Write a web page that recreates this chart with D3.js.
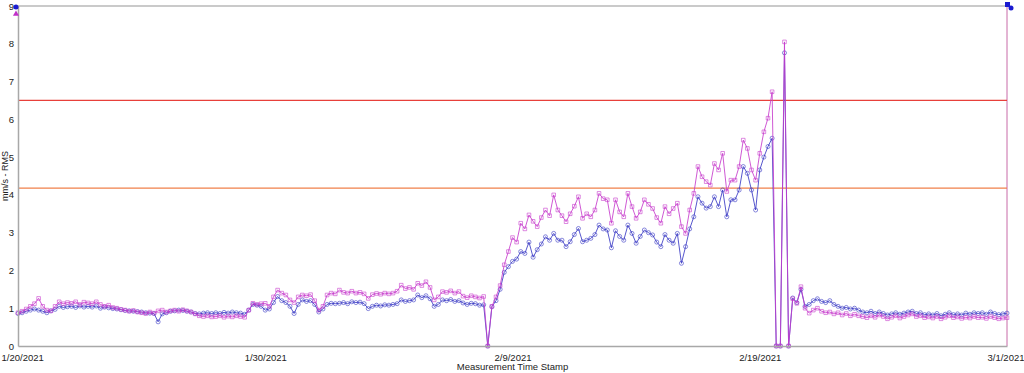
<!DOCTYPE html>
<html>
<head>
<meta charset="utf-8">
<script src="https://cdn.jsdelivr.net/npm/d3@7"></script>
<style>
  body { margin: 0; background: #fff; }
  svg { display: block; font-family: "Liberation Sans", Arial, sans-serif; }
  .tick text { font-size: 9.5px; fill: #222; }
</style>
</head>
<body>
<svg id="chart" width="1024" height="373"></svg>
<script>
'use strict';

// readings every 4 hours (6 per day) from 1/20/2021 to 3/1/2021
const startDate = new Date(2021, 0, 20);
const stepHours = 4;

const seriesMagenta = [
  0.88,0.92,0.98,1.05,1.12,1.26,  1.05,0.95,0.93,1.05,1.17,1.12,
  1.15,1.13,1.17,1.10,1.16,1.14,  1.12,1.17,1.10,1.05,1.08,1.02,
  1.00,0.97,0.95,0.92,0.94,0.90,  0.88,0.86,0.90,0.87,0.93,0.95,
  0.90,0.93,0.95,0.92,0.96,0.93,  0.90,0.85,0.80,0.78,0.80,0.77,
  0.78,0.80,0.76,0.79,0.77,0.80,  0.78,0.76,0.95,1.13,1.10,1.12,
  1.13,1.05,1.30,1.48,1.40,1.35,  1.22,1.15,1.30,1.35,1.33,1.36,
  1.20,0.95,1.05,1.35,1.40,1.38,  1.48,1.42,1.40,1.45,1.40,1.42,
  1.38,1.26,1.36,1.39,1.37,1.40,  1.38,1.40,1.45,1.61,1.52,1.55,
  1.50,1.66,1.60,1.70,1.55,1.22,  1.30,1.44,1.42,1.46,1.40,1.44,
  1.32,1.28,1.33,1.30,1.27,1.31,  0.00,1.05,1.30,1.60,2.15,2.50,
  2.87,2.75,3.25,3.10,3.47,3.30,  3.16,3.40,3.60,3.45,4.00,3.60,
  3.45,3.29,3.50,3.70,3.95,3.38,  3.50,3.42,3.60,4.04,3.90,3.87,
  3.25,3.87,3.55,3.42,4.04,3.69,  3.38,3.55,3.87,3.75,3.64,3.40,
  3.25,3.69,3.50,3.64,3.78,3.16,  2.98,3.60,4.04,4.75,4.48,4.35,
  4.26,4.83,4.66,5.10,4.09,4.39,  4.39,4.75,5.45,5.23,4.66,4.39,
  5.10,5.67,6.03,6.73,0.00,0.00,  8.05,0.00,1.25,1.13,1.57,1.00,
  0.87,0.95,1.00,0.92,0.88,0.90,  0.85,0.88,0.82,0.86,0.80,0.84,
  0.80,0.78,0.75,0.80,0.76,0.82,  0.78,0.72,0.76,0.80,0.74,0.78,
  0.82,0.85,0.78,0.80,0.75,0.77,  0.74,0.78,0.72,0.76,0.80,0.75,
  0.77,0.73,0.76,0.74,0.78,0.75,  0.76,0.73,0.78,0.75,0.72,0.74,
  0.75
];

const seriesBlue = [
  0.86,0.88,0.92,0.95,0.98,0.95,  0.92,0.88,0.93,0.97,1.05,1.02,
  1.04,1.05,1.02,1.06,1.03,1.05,  1.03,1.06,1.00,1.03,1.01,0.99,
  0.98,0.96,0.94,0.93,0.92,0.91,  0.90,0.88,0.87,0.86,0.64,0.85,
  0.88,0.92,0.93,0.95,0.94,0.92,  0.90,0.86,0.85,0.87,0.88,0.86,
  0.88,0.86,0.89,0.87,0.90,0.88,  0.87,0.84,0.95,1.10,1.08,1.05,
  0.95,0.98,1.15,1.31,1.20,1.15,  1.05,0.86,1.10,1.22,1.18,1.20,
  1.10,0.90,0.98,1.10,1.13,1.12,  1.13,1.15,1.12,1.17,1.15,1.16,
  1.12,0.99,1.05,1.08,1.06,1.09,  1.08,1.10,1.12,1.22,1.18,1.20,
  1.22,1.35,1.28,1.33,1.25,1.05,  1.10,1.22,1.20,1.23,1.18,1.20,
  1.14,1.10,1.13,1.12,1.08,1.09,  0.00,1.04,1.20,1.50,1.95,2.10,
  2.24,2.30,2.50,2.45,2.75,2.35,  2.55,2.70,2.89,2.80,2.98,2.80,
  2.80,2.63,2.76,2.95,3.11,2.76,  2.80,2.85,2.95,3.20,3.10,3.07,
  2.60,3.05,2.90,2.80,3.20,2.98,  2.72,2.90,3.07,3.00,2.94,2.75,
  2.63,2.95,2.80,2.72,2.98,2.19,  2.63,3.10,3.42,3.95,3.78,3.65,
  3.69,3.95,3.69,4.13,3.42,3.87,  3.87,4.13,4.75,4.57,4.13,3.60,
  4.66,5.00,5.28,5.50,0.00,0.00,  7.76,0.00,1.27,1.15,1.50,1.05,
  1.10,1.20,1.25,1.18,1.15,1.20,  1.10,1.05,1.00,1.02,0.98,1.00,
  0.95,0.90,0.88,0.92,0.86,0.90,  0.86,0.82,0.85,0.88,0.84,0.87,
  0.90,0.92,0.86,0.88,0.83,0.85,  0.82,0.86,0.80,0.84,0.88,0.83,
  0.85,0.82,0.87,0.84,0.88,0.86,  0.88,0.84,0.90,0.86,0.83,0.85,
  0.87
];

const yTicks = [0, 1, 2, 3, 4, 5, 6, 7, 8, 9];
const xTickDates = [new Date(2021, 0, 20), new Date(2021, 0, 30), new Date(2021, 1, 9),
                    new Date(2021, 1, 19), new Date(2021, 2, 1)];
const alarmLevels = [
  { value: 6.5, color: '#e8403a' },
  { value: 4.18, color: '#f0804a' }
];
const yLabel = 'mm/s - RMS';
const xLabel = 'Measurement Time Stamp';

const svg = d3.select('#chart');
const margin = { top: 6, right: 17, bottom: 27, left: 18 };
const W = 1024, H = 373;

const x = d3.scaleTime()
  .domain([xTickDates[0], xTickDates[xTickDates.length - 1]])
  .range([margin.left, W - margin.right]);
const y = d3.scaleLinear().domain([0, 9]).range([H - margin.bottom, margin.top]);

const toPoints = vals => vals.map((v, i) => ({
  t: new Date(startDate.getTime() + i * stepHours * 3600e3), v
}));

// frame: top border and right edge
svg.append('line')
  .attr('x1', x.range()[0]).attr('x2', x.range()[1])
  .attr('y1', y(9)).attr('y2', y(9))
  .attr('stroke', '#b8b8b8').attr('stroke-width', 1.5);
svg.append('line')
  .attr('x1', x.range()[1]).attr('x2', x.range()[1])
  .attr('y1', y(9)).attr('y2', y(0))
  .attr('stroke', '#c86aa8').attr('stroke-width', 1);

// alarm lines
svg.selectAll('line.alarm').data(alarmLevels).enter().append('line')
  .attr('class', 'alarm')
  .attr('x1', x.range()[0]).attr('x2', x.range()[1])
  .attr('y1', d => y(d.value)).attr('y2', d => y(d.value))
  .attr('stroke', d => d.color).attr('stroke-width', 1.2);

const line = d3.line().x(d => x(d.t)).y(d => y(d.v));

function drawSeries(vals, color, shape) {
  const pts = toPoints(vals);
  const g = svg.append('g');
  g.append('path').datum(pts)
    .attr('d', line)
    .attr('fill', 'none')
    .attr('stroke', color)
    .attr('stroke-width', 1)
    .attr('stroke-opacity', 0.85);
  const sym = d3.symbol().type(shape).size(13);
  g.selectAll('path.pt').data(pts).enter().append('path')
    .attr('class', 'pt')
    .attr('d', sym)
    .attr('transform', d => `translate(${x(d.t)},${y(d.v)})`)
    .attr('fill', 'none')
    .attr('stroke', color)
    .attr('stroke-width', 0.8)
    .attr('stroke-opacity', 0.75);
}

drawSeries(seriesBlue, '#3a3ac4', d3.symbolCircle);
drawSeries(seriesMagenta, '#c73ccc', d3.symbolSquare);

// axes
const yAxis = d3.axisLeft(y).tickValues(yTicks).tickSize(0).tickPadding(4).tickFormat(d3.format('d'));
const yG = svg.append('g').attr('transform', `translate(${margin.left},0)`).call(yAxis);
yG.select('.domain').attr('stroke', '#a8a8a8').attr('stroke-width', 1.5);

const xAxis = d3.axisBottom(x).tickValues(xTickDates).tickSize(0).tickPadding(8)
  .tickFormat(d3.timeFormat('%-m/%-d/%Y'));
const xG = svg.append('g').attr('transform', `translate(0,${y(0)})`).call(xAxis);
xG.select('.domain').attr('stroke', '#a8a8a8').attr('stroke-width', 1.5);
// keep end labels inside the page
const xTexts = xG.selectAll('.tick text');
xTexts.filter((d, i) => i === 0).attr('text-anchor', 'start').attr('dx', -17);
xTexts.filter((d, i, n) => i === n.length - 1).attr('text-anchor', 'end').attr('dx', 17);

svg.append('text')
  .attr('transform', `translate(8,176) rotate(-90)`)
  .attr('text-anchor', 'middle')
  .attr('font-size', 9).attr('fill', '#222')
  .text(yLabel);

svg.append('text')
  .attr('x', (x.range()[0] + x.range()[1]) / 2).attr('y', 370)
  .attr('text-anchor', 'middle')
  .attr('font-size', 9.5).attr('fill', '#222')
  .text(xLabel);

// corner markers
const t0 = xTickDates[0], t1 = xTickDates[xTickDates.length - 1];
svg.append('circle').attr('cx', x(t0) - 2).attr('cy', y(9) + 1).attr('r', 2.5).attr('fill', '#1a1ad0');
svg.append('path').attr('d', d3.symbol().type(d3.symbolTriangle).size(16))
  .attr('transform', `translate(${x(t0) - 2},${y(9) + 8})`).attr('fill', '#c030c8');
svg.append('rect').attr('x', x(t1) - 2).attr('y', y(9) - 4).attr('width', 5).attr('height', 5).attr('fill', '#1a1ad0');
svg.append('circle').attr('cx', x(t1) + 4).attr('cy', y(9) + 2).attr('r', 2.5).attr('fill', '#1a1ad0');
</script>
</body>
</html>
